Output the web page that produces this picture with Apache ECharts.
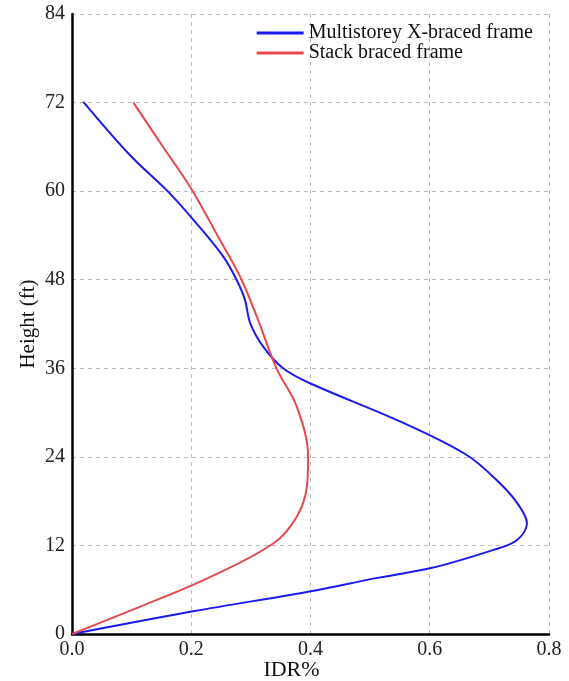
<!DOCTYPE html>
<html>
<head>
<meta charset="utf-8">
<script src="https://cdn.jsdelivr.net/npm/echarts@6/dist/echarts.min.js"></script>
<style>html,body{margin:0;padding:0;background:#fff}#c{width:569px;height:681px}</style>
</head>
<body>
<div id="c"></div>
<script>
const seriesNames = ['Multistorey X-braced frame', 'Stack braced frame'];
// [IDR%, Height ft]
const blueData = [[0,0],[0.203,3.07],[0.408,5.9],[0.505,7.5],[0.602,8.93],[0.707,11.4],[0.746,12.7],[0.763,15.0],[0.747,17.7],[0.718,20.4],[0.662,24.25],[0.550,28.8],[0.399,33.97],[0.354,36.0],[0.321,38.9],[0.299,42.1],[0.290,45.3],[0.276,48.0],[0.254,51.1],[0.209,55.6],[0.164,59.7],[0.097,64.9],[0.019,72.1]];
const redData = [[0,0],[0.105,3.4],[0.226,7.5],[0.338,12.3],[0.377,15.9],[0.394,20.0],[0.396,24.0],[0.377,30.8],[0.343,36.0],[0.310,43.0],[0.282,48.4],[0.248,53.4],[0.201,60.2],[0.156,65.6],[0.103,72]];
const xTicks = [0, 0.8, 0.2];
const yTicks = [0, 84, 12];

const chart = echarts.init(document.getElementById('c'));
const font = 'Liberation Serif';
chart.setOption({
  backgroundColor: '#fff',
  animation: false,
  grid: { left: 72, right: 20, top: 14, bottom: 47, containLabel: false, outerBoundsMode: 'none' },
  legend: {
    orient: 'vertical', right: 31, top: 18, itemGap: 0,
    itemWidth: 47, itemHeight: 3, icon: 'rect',
    textStyle: { fontFamily: font, fontSize: 20, color: '#111' },
    data: seriesNames
  },
  xAxis: {
    type: 'value', min: xTicks[0], max: xTicks[1], interval: xTicks[2],
    name: 'IDR%', nameLocation: 'middle', nameGap: 25, nameMoveOverlap: false,
    nameTextStyle: { fontFamily: font, fontSize: 22, color: '#111', padding: [0, 38, 0, 0] },
    axisLine: { show: true, lineStyle: { color: '#000', width: 2.5 } },
    axisTick: { show: false },
    axisLabel: { fontFamily: font, fontSize: 20, color: '#222', margin: 6, formatter: v => v.toFixed(1) },
    splitLine: { show: true, lineStyle: { color: '#bbb', type: [4, 4], width: 1 } }
  },
  yAxis: {
    type: 'value', min: yTicks[0], max: yTicks[1], interval: yTicks[2],
    name: 'Height (ft)', nameLocation: 'middle', nameGap: 33, nameRotate: 90, nameMoveOverlap: false,
    nameTextStyle: { fontFamily: font, fontSize: 21, color: '#111' },
    axisLine: { show: true, lineStyle: { color: '#000', width: 2.5 } },
    axisTick: { show: false },
    axisLabel: { fontFamily: font, fontSize: 20, color: '#222', margin: 7 },
    splitLine: { show: true, lineStyle: { color: '#bbb', type: [4, 4], width: 1 } }
  },
  series: [
    { name: seriesNames[0], type: 'line', data: blueData, smooth: 0.35, showSymbol: false,
      lineStyle: { color: '#1a1aef', width: 2 }, itemStyle: { color: '#1a1aef' } },
    { name: seriesNames[1], type: 'line', data: redData, smooth: 0.35, showSymbol: false,
      lineStyle: { color: '#e8484c', width: 2 }, itemStyle: { color: '#e8484c' } }
  ]
});
</script>
</body>
</html>
